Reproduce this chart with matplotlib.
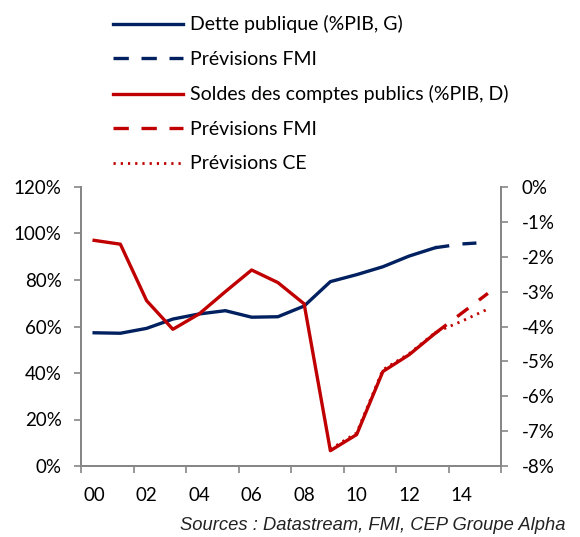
import numpy as np
import matplotlib
matplotlib.use("Agg")
import matplotlib.pyplot as plt
from matplotlib.lines import Line2D

# Données (années 2000 à 2015, indice 0..15)
annees = np.arange(0, 16)
dette = [57.3, 57.1, 59.2, 63.2, 65.4, 66.8, 64.0, 64.2, 68.8, 79.3,
         82.3, 85.7, 90.3, 93.9]
dette_fmi_x = [13, 14, 15]
dette_fmi = [93.9, 95.5, 96.2]

solde = [-1.53, -1.64, -3.26, -4.08, -3.64, -3.00, -2.38, -2.74, -3.35, -7.56,
         -7.10, -5.29, -4.81, -4.19]
solde_fmi_x = [13, 14, 15]
solde_fmi = [-4.19, -3.62, -3.05]
solde_ce_x = [9, 10, 11, 12, 13, 14, 15]
solde_ce = [-7.52, -7.05, -5.24, -4.78, -4.17, -3.85, -3.50]

x_labels = ["00", "02", "04", "06", "08", "10", "12", "14"]

bleu = "#002060"
rouge = "#C00000"
gris = "#868686"
tirets = (4.2, 4.0)
points = (0.8, 1.8)

plt.rcParams['font.family'] = ['Lato', 'DejaVu Sans']

fig = plt.figure(figsize=(5.8, 5.37), dpi=100)
ax = fig.add_axes([81/580, 1 - 466/537, 420/580, 279/537])
ax2 = ax.twinx()

ax.plot(annees[:len(dette)], dette, color=bleu, lw=2.4)
ax.plot(dette_fmi_x, dette_fmi, color=bleu, lw=2.4, dashes=tirets)
ax2.plot(annees[:len(solde)], solde, color=rouge, lw=2.4)
ax2.plot(solde_fmi_x, solde_fmi, color=rouge, lw=2.4, dashes=tirets)
ax2.plot(solde_ce_x, solde_ce, color=rouge, lw=2.0, dashes=points)

ax.set_xlim(-0.5, 15.5)
ax.set_ylim(0, 120)
ax2.set_ylim(-8, 0)

ax.set_xticks(np.arange(-0.5, 16, 2))
ax.set_xticklabels([])
ax.set_xticks(np.arange(0, 16, 2), minor=True)
ax.set_xticklabels(x_labels, minor=True)
ax.tick_params(axis='x', which='minor', length=0, pad=15, labelsize=13.5)
ax.tick_params(axis='x', which='major', length=5, color=gris, width=1.2)

ax.set_yticks(np.arange(0, 121, 20))
ax.set_yticklabels([f"{v}%" for v in range(0, 121, 20)])
ax.tick_params(axis='y', length=5, color=gris, width=1.2, labelsize=13.5, pad=9)
ax2.set_yticks(np.arange(-8, 1, 1))
ax2.set_yticklabels([f"{v}%" for v in range(-8, 1)])
ax2.tick_params(axis='y', length=5, color=gris, width=1.2, labelsize=13.5, pad=10)

for a in (ax, ax2):
    a.spines['top'].set_visible(False)
    for s in ('left', 'right', 'bottom'):
        a.spines[s].set_color(gris)
        a.spines[s].set_linewidth(1.3)

handles = [
    Line2D([], [], color=bleu, lw=2.4),
    Line2D([], [], color=bleu, lw=2.4, dashes=(4.6, 3.8)),
    Line2D([], [], color=rouge, lw=2.4),
    Line2D([], [], color=rouge, lw=2.4, dashes=(4.6, 3.8)),
    Line2D([], [], color=rouge, lw=2.0, dashes=points),
]
labels = ["Dette publique (%PIB, G)", "Prévisions FMI",
          "Soldes des comptes publics (%PIB, D)", "Prévisions FMI",
          "Prévisions CE"]
fig.legend(handles, labels, loc='upper left', bbox_to_anchor=(95/580, 1.004),
           frameon=False, fontsize=14, handlelength=3.6, handletextpad=0.36,
           labelspacing=0.9)

fig.text(565/580, 1 - 526/537, "Sources : Datastream, FMI, CEP Groupe Alpha",
         ha='right', va='center', fontsize=13.2, style='italic',
         family='Liberation Sans', color='#222222')

fig.savefig("out.png", dpi=100)
